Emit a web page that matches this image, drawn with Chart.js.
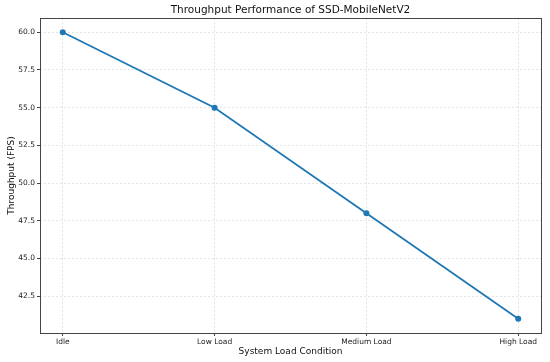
<!DOCTYPE html>
<html>
<head>
<meta charset="utf-8">
<script src="https://cdn.jsdelivr.net/npm/chart.js@4"></script>
<style>
html,body{margin:0;padding:0;background:#fff;}
#c{display:block;}
</style>
</head>
<body>
<canvas id="c" width="550" height="362"></canvas>
<script>
const categories = ["Idle", "Low Load", "Medium Load", "High Load"];
const throughput = [60.0, 55.0, 48.0, 41.0];
const yTicks = [42.5, 45.0, 47.5, 50.0, 52.5, 55.0, 57.5, 60.0];
const yMin = 40.05, yMax = 60.95;
const xMin = -0.15, xMax = 3.15;

const FONT = "'DejaVu Sans', sans-serif";

const framePlugin = {
  id: 'frame',
  afterDatasetsDraw(chart) {
    const {ctx, chartArea: a} = chart;
    ctx.save();
    ctx.strokeStyle = '#444';
    ctx.lineWidth = 1;
    ctx.setLineDash([]);
    ctx.strokeRect(Math.round(a.left) + 0.5, Math.round(a.top) + 0.5,
                   Math.round(a.right - a.left), Math.round(a.bottom - a.top));
    ctx.restore();
  }
};

new Chart(document.getElementById('c'), {
  type: 'line',
  data: {
    datasets: [{
      data: throughput.map((v, i) => ({x: i, y: v})),
      borderColor: '#1f77b4',
      backgroundColor: '#1f77b4',
      borderWidth: 1.8,
      pointRadius: 3,
      pointHoverRadius: 3,
      pointBorderWidth: 0,
      tension: 0,
      fill: false,
      clip: false
    }]
  },
  options: {
    responsive: false,
    animation: false,
    events: [],
    layout: {padding: {left: 0, right: 9, top: 0, bottom: 0}},
    plugins: {
      legend: {display: false},
      tooltip: {enabled: false},
      title: {
        display: true,
        text: 'Throughput Performance of SSD-MobileNetV2',
        color: '#111',
        font: {family: FONT, size: 10.5, weight: 'normal', lineHeight: 1.2},
        padding: {top: 4, bottom: 1.4},
        fullSize: false
      }
    },
    scales: {
      x: {
        type: 'linear',
        min: xMin,
        max: xMax,
        afterBuildTicks(scale) { scale.ticks = categories.map((c, i) => ({value: i})); },
        afterFit(scale) { scale.height = 29; },
        ticks: {
          callback: (v) => categories[v],
          color: '#222',
          font: {family: FONT, size: 7.5},
          padding: 2,
          maxRotation: 0,
          autoSkip: false
        },
        grid: {
          color: 'rgba(0,0,0,0.13)',
          lineWidth: 0.8,
          tickLength: 3,
          tickColor: '#444',
          tickWidth: 1,
          tickBorderDash: []
        },
        border: {display: false, dash: [2, 2]},
        title: {
          display: true,
          text: 'System Load Condition',
          color: '#111',
          font: {family: FONT, size: 9, lineHeight: 1.2},
          padding: {top: 0, bottom: 4.5}
        }
      },
      y: {
        type: 'linear',
        min: yMin,
        max: yMax,
        afterBuildTicks(scale) { scale.ticks = yTicks.map(v => ({value: v})); },
        afterFit(scale) { scale.width = 40; },
        ticks: {
          callback: (v) => v.toFixed(1),
          color: '#222',
          font: {family: FONT, size: 7.5},
          padding: 2
        },
        grid: {
          color: 'rgba(0,0,0,0.13)',
          lineWidth: 0.8,
          tickLength: 3,
          tickColor: '#444',
          tickWidth: 1,
          tickBorderDash: []
        },
        border: {display: false, dash: [2, 2]},
        title: {
          display: true,
          text: 'Throughput (FPS)',
          color: '#111',
          font: {family: FONT, size: 9, lineHeight: 1.2},
          padding: {top: 6.5, bottom: 0}
        }
      }
    }
  },
  plugins: [framePlugin]
});
</script>
</body>
</html>
